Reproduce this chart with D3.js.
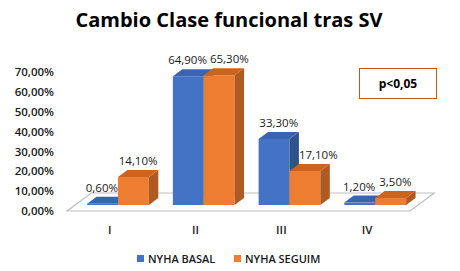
<!DOCTYPE html>
<html>
<head>
<meta charset="utf-8">
<script src="https://cdn.jsdelivr.net/npm/d3@7"></script>
<style>
  body { margin: 0; background: #fff; }
  svg { display: block; font-family: 'Open Sans', 'Noto Sans', sans-serif; }
</style>
</head>
<body>
<div id="chart"></div>
<script>
// Data
const categories = ['I', 'II', 'III', 'IV'];
const seriesNames = ['NYHA BASAL', 'NYHA SEGUIM'];
const basalValues = [0.6, 64.9, 33.3, 1.2];
const seguimValues = [14.1, 65.3, 17.1, 3.5];
const yTicks = [0, 10, 20, 30, 40, 50, 60, 70];
const titleText = 'Cambio Clase funcional tras SV';
const noteText = 'p<0,05';

const width = 460, height = 271;

// Colours (front, top, side) per series
const faceColors = [
  { front: '#4472C4', top: '#3A64B2', side: '#2F528F' },
  { front: '#ED7D31', top: '#CC6420', side: '#AE5A21' }
];

const fmt = v => d3.format('.2f')(v).replace('.', ',') + '%';

const svg = d3.select('#chart').append('svg')
  .attr('width', width)
  .attr('height', height);

// Oblique 3D: depth d moves a point right by k*d and up by d
const k = 1.35;
const floorDepth = 18;
const barFront = 6, barBack = 13;
const project = (x, y, d) => [x + k * d, y - d];

// Scales at the front plane of the floor
const xScale = d3.scaleBand()
  .domain(categories)
  .range([67, 410])
  .paddingInner(0.28)
  .paddingOuter(0.14);

const xSeries = d3.scaleBand()
  .domain(d3.range(seriesNames.length))
  .range([0, xScale.bandwidth()]);

const yScale = d3.scaleLinear()
  .domain([0, 70])
  .range([211, 72]);

// Title
svg.append('text')
  .attr('x', 229)
  .attr('y', 27)
  .attr('text-anchor', 'middle')
  .style('font-size', '20px')
  .style('font-weight', 'bold')
  .style('fill', '#000')
  .text(titleText);

// Y axis tick labels (no axis line in the reference)
const yAxis = d3.axisLeft(yScale)
  .tickValues(yTicks)
  .tickFormat(fmt)
  .tickSize(0)
  .tickPadding(0);

const yAxisGroup = svg.append('g')
  .attr('transform', 'translate(54,0)')
  .call(yAxis);
yAxisGroup.select('.domain').remove();
yAxisGroup.selectAll('text')
  .style('font-family', "'Open Sans', sans-serif")
  .style('font-size', '11.5px')
  .style('font-weight', '600')
  .style('fill', '#1a1a1a');

// Floor
const x0 = xScale.range()[0], x1 = xScale.range()[1], y0 = yScale(0);
const floorPts = [
  project(x0, y0, 0), project(x1, y0, 0),
  project(x1, y0, floorDepth), project(x0, y0, floorDepth)
];
svg.append('polygon')
  .attr('points', floorPts.map(p => p.join(',')).join(' '))
  .attr('fill', '#fff')
  .attr('stroke', '#BFBFBF')
  .attr('stroke-width', 1.2);

// Bars, drawn left to right so right-hand bars cover side faces
const barData = [];
categories.forEach((c, i) => {
  [basalValues[i], seguimValues[i]].forEach((v, s) => {
    barData.push({ category: c, series: s, value: v });
  });
});

const barGroup = svg.append('g');
barData.forEach(d => {
  const xl = xScale(d.category) + xSeries(d.series);
  const xr = xl + xSeries.bandwidth();
  const yb = yScale(0), yt = yScale(d.value);
  const col = faceColors[d.series];
  const poly = pts => pts.map(p => p.join(',')).join(' ');

  // front
  barGroup.append('polygon')
    .attr('points', poly([project(xl, yb, barFront), project(xr, yb, barFront),
      project(xr, yt, barFront), project(xl, yt, barFront)]))
    .attr('fill', col.front);
  // side
  barGroup.append('polygon')
    .attr('points', poly([project(xr, yb, barFront), project(xr, yb, barBack),
      project(xr, yt, barBack), project(xr, yt, barFront)]))
    .attr('fill', col.side);
  // top
  barGroup.append('polygon')
    .attr('points', poly([project(xl, yt, barFront), project(xr, yt, barFront),
      project(xr, yt, barBack), project(xl, yt, barBack)]))
    .attr('fill', col.top);
});

// Value labels
const labels = svg.append('g').selectAll('text')
  .data(barData)
  .join('text')
  .attr('x', d => xScale(d.category) + xSeries(d.series) + xSeries.bandwidth() / 2 + k * (barFront + barBack) / 2)
  .attr('y', d => yScale(d.value) - barBack - 5)
  .attr('text-anchor', 'middle')
  .style('font-size', '11.5px')
  .style('fill', '#1a1a1a')
  .text(d => fmt(d.value));

// Keep labels off the neighbouring bar and apart from each other
categories.forEach((c, i) => {
  const pair = labels.filter(d => d.category === c).nodes();
  const a = pair[0].getBBox(), b = pair[1].getBBox();
  const shift = (node, dx) => d3.select(node).attr('x', +node.getAttribute('x') + dx);
  // second label below the first bar's top: move it right of that bar
  const firstRight = xScale(c) + xSeries.bandwidth() + k * barBack;
  if (seguimValues[i] < basalValues[i] && b.y + b.height > yScale(basalValues[i]) - barBack && b.x < firstRight) {
    shift(pair[1], firstRight - b.x);
    return;
  }
  // first label below the second bar's top: move it left of that bar
  const secondLeft = xScale(c) + xSeries(1) + k * barFront;
  if (basalValues[i] < seguimValues[i] && a.y + a.height > yScale(seguimValues[i]) - barBack && a.x + a.width > secondLeft) {
    shift(pair[0], secondLeft - (a.x + a.width));
    return;
  }
  const overlapX = a.x + a.width + 3 - b.x;
  const overlapY = Math.min(a.y + a.height, b.y + b.height) - Math.max(a.y, b.y);
  if (overlapX > 0 && overlapY > 0) {
    shift(pair[0], -overlapX / 2);
    shift(pair[1], overlapX / 2);
  }
});

// Category labels
svg.append('g').selectAll('text')
  .data(categories)
  .join('text')
  .attr('x', d => xScale(d) + xScale.bandwidth() / 2)
  .attr('y', 234)
  .attr('text-anchor', 'middle')
  .style('font-size', '11.5px')
  .style('font-weight', '600')
  .style('fill', '#1a1a1a')
  .text(d => d);

// Significance box
svg.append('rect')
  .attr('x', 359.5)
  .attr('y', 68.5)
  .attr('width', 77)
  .attr('height', 30)
  .attr('fill', '#fff')
  .attr('stroke', '#C55A11')
  .attr('stroke-width', 1);

svg.append('text')
  .attr('x', 398)
  .attr('y', 88)
  .attr('text-anchor', 'middle')
  .style('font-size', '12px')
  .style('font-weight', 'bold')
  .style('fill', '#000')
  .text(noteText);

// Legend
const legendX = [137, 234];
const legend = svg.append('g').selectAll('g')
  .data(seriesNames)
  .join('g')
  .attr('transform', (d, i) => `translate(${legendX[i]},255)`);

legend.append('rect')
  .attr('width', 7)
  .attr('height', 7)
  .attr('fill', (d, i) => faceColors[i].front);

legend.append('text')
  .attr('x', 11)
  .attr('y', 7.5)
  .style('font-size', '11px')
  .style('font-weight', '600')
  .style('fill', '#1a1a1a')
  .text(d => d);
</script>
</body>
</html>
